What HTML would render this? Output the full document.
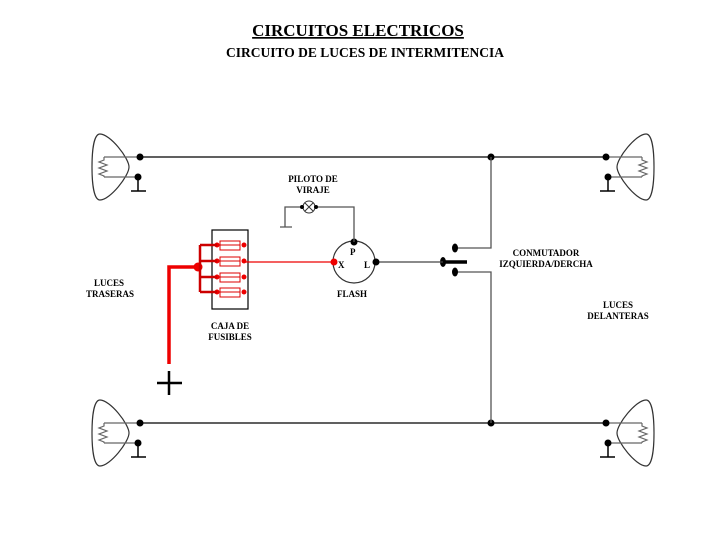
<!DOCTYPE html>
<html><head><meta charset="utf-8"><style>body{margin:0;background:#fff}svg{display:block}text{font-family:"Liberation Serif",serif;font-weight:bold}</style></head><body>
<svg width="728" height="546" viewBox="0 0 728 546" xmlns="http://www.w3.org/2000/svg">
<defs>
<g id="lamp">
<path d="M100,134 C94,134 92,150 92,167 C92,184 94,200 100,200 C110,200 129,176 129,167 C129,158 110,134 100,134 Z" fill="none" stroke="#333" stroke-width="1.2"/>
<path d="M104,157 H140 M104,177 H138 M104,157 V160 l-5,2 l8,3 l-8,3 l8,3 l-8,3 l5,2 V177" fill="none" stroke="#666" stroke-width="1.2"/>
<circle cx="140" cy="157" r="3.5" fill="#000"/><circle cx="138" cy="177" r="3.5" fill="#000"/>
<path d="M138,177 V191 M131,191 H146" stroke="#000" stroke-width="1.5"/>
</g>
</defs>
<text x="358" y="36" font-size="17" text-anchor="middle" text-decoration="underline">CIRCUITOS ELECTRICOS</text>
<text x="365" y="57" font-size="13.5" text-anchor="middle">CIRCUITO DE LUCES DE INTERMITENCIA</text>
<use href="#lamp"/>
<use href="#lamp" transform="translate(0,266)"/>
<use href="#lamp" transform="translate(746,0) scale(-1,1)"/>
<use href="#lamp" transform="translate(746,266) scale(-1,1)"/>
<path d="M140,157 H608 M140,423 H608" stroke="#000" stroke-width="1.3"/>
<circle cx="491" cy="157" r="3.5"/><circle cx="491" cy="423" r="3.5"/>
<path d="M491,157 V248 H455 M491,423 V272 H455" stroke="#555" stroke-width="1.3" fill="none"/>
<ellipse cx="455" cy="248" rx="3" ry="4.5"/><ellipse cx="455" cy="272" rx="3" ry="4.5"/>
<ellipse cx="443" cy="262" rx="3" ry="5"/>
<path d="M443,262 H467" stroke="#000" stroke-width="3.5"/>
<path d="M377,262 H443" stroke="#444" stroke-width="1.3"/>
<circle cx="354" cy="262" r="21" fill="none" stroke="#333" stroke-width="1.2"/>
<circle cx="354" cy="242" r="3.5"/><circle cx="376" cy="262" r="3.5"/>
<circle cx="334" cy="262" r="3.5" fill="#e00"/>
<text x="350" y="255" font-size="9">P</text><text x="338" y="268" font-size="9">X</text><text x="364" y="268" font-size="9">L</text>
<text x="352" y="297" font-size="9" text-anchor="middle">FLASH</text>
<path d="M354,242 V207 H316 M301,207 H285 V227 M280,227 H292" stroke="#555" stroke-width="1.3" fill="none"/>
<circle cx="309" cy="207" r="6" fill="#fff" stroke="#333"/>
<path d="M305,203 l8,8 M313,203 l-8,8" stroke="#333"/>
<circle cx="302" cy="207" r="2"/><circle cx="316" cy="207" r="2"/>
<text x="313" y="182" font-size="9" text-anchor="middle">PILOTO DE</text>
<text x="313" y="193" font-size="9" text-anchor="middle">VIRAJE</text>
<rect x="212" y="230" width="36" height="79" fill="none" stroke="#000" stroke-width="1.2"/>
<g stroke="#d00" fill="none" stroke-width="1">
<rect x="220" y="241" width="20" height="9"/><rect x="220" y="257" width="20" height="9"/><rect x="220" y="273" width="20" height="9"/><rect x="220" y="288" width="20" height="9"/>
<path d="M220,245 H240 M220,261 H240 M220,277 H240 M220,292 H240"/>
</g>
<g fill="#e00">
<circle cx="217" cy="245" r="2.5"/><circle cx="244" cy="245" r="2.5"/><circle cx="217" cy="261" r="2.5"/><circle cx="244" cy="261" r="2.5"/>
<circle cx="217" cy="277" r="2.5"/><circle cx="244" cy="277" r="2.5"/><circle cx="217" cy="292" r="2.5"/><circle cx="244" cy="292" r="2.5"/>
<circle cx="198" cy="267" r="4.5"/>
</g>
<path d="M200,245 V292 M200,245 H217 M200,261 H217 M200,277 H217 M200,292 H217" stroke="#c00" stroke-width="2.5" fill="none"/>
<path d="M169,364 V267 H198" stroke="#e00" stroke-width="3.5" fill="none"/>
<path d="M244,262 H334" stroke="#e00" stroke-width="1.3"/>
<path d="M157,383 H182 M169,371 V395" stroke="#000" stroke-width="2.5"/>
<text x="230" y="329" font-size="9" text-anchor="middle">CAJA DE</text>
<text x="230" y="340" font-size="9" text-anchor="middle">FUSIBLES</text>
<text x="109" y="286" font-size="9" text-anchor="middle">LUCES</text>
<text x="110" y="297" font-size="9" text-anchor="middle">TRASERAS</text>
<text x="546" y="256" font-size="9" text-anchor="middle">CONMUTADOR</text>
<text x="546" y="267" font-size="9" text-anchor="middle">IZQUIERDA/DERCHA</text>
<text x="618" y="308" font-size="9" text-anchor="middle">LUCES</text>
<text x="618" y="319" font-size="9" text-anchor="middle">DELANTERAS</text>
</svg>
</body></html>
